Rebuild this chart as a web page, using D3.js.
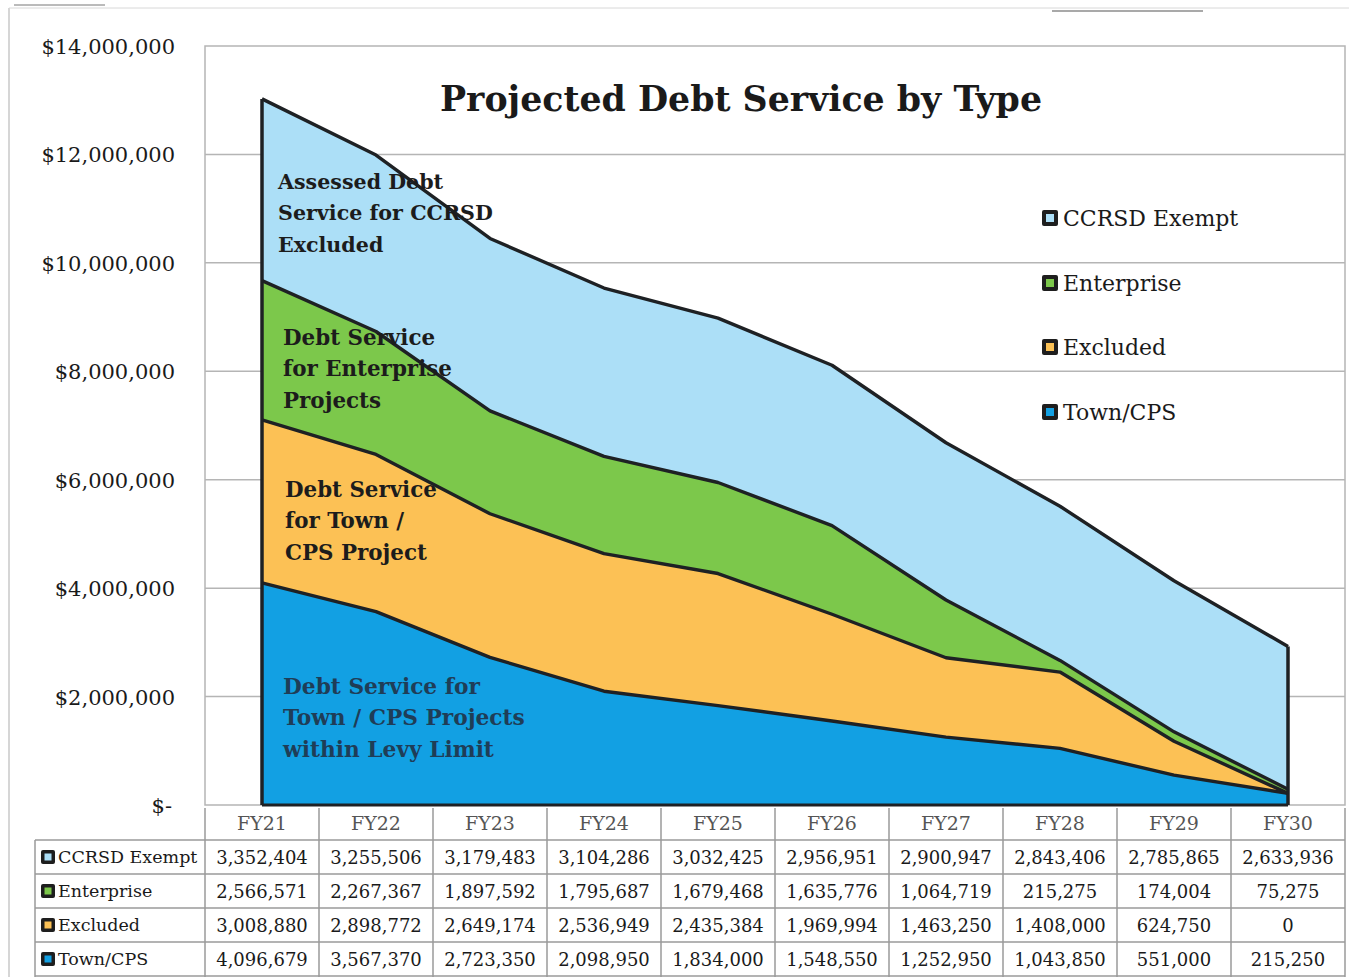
<!DOCTYPE html>
<html>
<head>
<meta charset="utf-8">
<script src="https://cdn.jsdelivr.net/npm/d3@7"></script>
<style>
  html, body { margin: 0; padding: 0; background: #fff; }
  svg { display: block; }
  text { font-family: "DejaVu Serif", "Liberation Serif", serif; }
</style>
</head>
<body>
<svg id="chart" width="1349" height="977"></svg>
<script>
// ---------- data ----------
const categories = ["FY21","FY22","FY23","FY24","FY25","FY26","FY27","FY28","FY29","FY30"];
const townCPS   = [4096679, 3567370, 2723350, 2098950, 1834000, 1548550, 1252950, 1043850, 551000, 215250];
const excluded  = [3008880, 2898772, 2649174, 2536949, 2435384, 1969994, 1463250, 1408000, 624750, 0];
const enterprise= [2566571, 2267367, 1897592, 1795687, 1679468, 1635776, 1064719, 215275, 174004, 75275];
const ccrsdExempt=[3352404, 3255506, 3179483, 3104286, 3032425, 2956951, 2900947, 2843406, 2785865, 2633936];
const yTicks = [0, 2000000, 4000000, 6000000, 8000000, 10000000, 12000000, 14000000];
const seriesNames = ["Town/CPS", "Excluded", "Enterprise", "CCRSD Exempt"];
const title = "Projected Debt Service by Type";
const annotations = [
  {series: "CCRSD Exempt", lines: ["Assessed Debt", "Service for CCRSD", "Excluded"]},
  {series: "Enterprise", lines: ["Debt Service", "for Enterprise", "Projects"]},
  {series: "Excluded", lines: ["Debt Service", "for Town /", "CPS Project"]},
  {series: "Town/CPS", lines: ["Debt Service for", "Town / CPS Projects", "within Levy Limit"]}
];

// ---------- style ----------
const colors = {"Town/CPS": "#12a0e3", "Excluded": "#fcc155", "Enterprise": "#7cc84b", "CCRSD Exempt": "#acdff7"};
const seriesValues = {"Town/CPS": townCPS, "Excluded": excluded, "Enterprise": enterprise, "CCRSD Exempt": ccrsdExempt};

const svg = d3.select("#chart");
const plot = {left: 205, right: 1345, top: 46, bottom: 805};

const x = d3.scaleBand().domain(categories).range([plot.left, plot.right]);
const xc = c => x(c) + x.bandwidth() / 2;
const y = d3.scaleLinear().domain([0, 14000000]).range([plot.bottom, plot.top]);

// outer frame
svg.append("line").attr("x1", 9).attr("x2", 9).attr("y1", 8).attr("y2", 977).attr("stroke", "#c8c8c8").attr("stroke-width", 1.5);
svg.append("line").attr("x1", 9).attr("x2", 1349).attr("y1", 8).attr("y2", 8).attr("stroke", "#d8d8d8").attr("stroke-width", 1);
svg.append("line").attr("x1", 14).attr("x2", 105).attr("y1", 5).attr("y2", 5).attr("stroke", "#777").attr("stroke-width", 1);
svg.append("line").attr("x1", 1052).attr("x2", 1203).attr("y1", 11).attr("y2", 11).attr("stroke", "#555").attr("stroke-width", 1.2);

// plot frame and gridlines
svg.append("rect").attr("x", plot.left).attr("y", plot.top).attr("width", plot.right - plot.left).attr("height", plot.bottom - plot.top)
  .attr("fill", "none").attr("stroke", "#b5b5b5").attr("stroke-width", 1.5);
svg.append("g").selectAll("line").data(yTicks.slice(1, -1)).join("line")
  .attr("x1", plot.left).attr("x2", plot.right)
  .attr("y1", d => y(d)).attr("y2", d => y(d))
  .attr("stroke", "#b5b5b5").attr("stroke-width", 1.5);

// y axis labels
const fmt = d => d === 0 ? "$-" : "$" + d3.format(",")(d);
svg.append("g").selectAll("text").data(yTicks).join("text")
  .attr("x", d => d === 0 ? 172 : 175).attr("y", d => y(d) + 8)
  .attr("text-anchor", "end").attr("font-size", 21).attr("fill", "#1a1a1a")
  .text(fmt);

// stacked areas
const table = categories.map((c, i) => {
  const row = {cat: c};
  seriesNames.forEach(s => row[s] = seriesValues[s][i]);
  return row;
});
const stack = d3.stack().keys(seriesNames)(table);
const area = d3.area()
  .x(d => xc(d.data.cat))
  .y0(d => y(d[0]))
  .y1(d => y(d[1]))
  .curve(d3.curveLinear);

svg.append("g").selectAll("path").data(stack).join("path")
  .attr("d", area)
  .attr("fill", d => colors[d.key])
  .attr("stroke", "none");
// boundary lines
const line = d3.line().x(d => xc(d.data.cat)).y(d => y(d[1])).curve(d3.curveLinear);
svg.append("g").selectAll("path").data(stack).join("path")
  .attr("d", line).attr("fill", "none").attr("stroke", "#1e2124").attr("stroke-width", 3.4).attr("stroke-linejoin", "round");
const topLayer = stack[stack.length - 1];
[0, categories.length - 1].forEach(i => {
  svg.append("line")
    .attr("x1", xc(categories[i])).attr("x2", xc(categories[i]))
    .attr("y1", y(0)).attr("y2", y(topLayer[i][1]))
    .attr("stroke", "#1e2124").attr("stroke-width", 3.5);
});
svg.append("line").attr("x1", xc(categories[0])).attr("x2", xc(categories[categories.length - 1]))
  .attr("y1", y(0)).attr("y2", y(0)).attr("stroke", "#1e2124").attr("stroke-width", 3);

// title
svg.append("text").attr("x", 741).attr("y", 111).attr("text-anchor", "middle")
  .attr("font-size", 36).attr("font-weight", "bold").attr("fill", "#1a1a1a")
  .attr("textLength", 602).attr("lengthAdjust", "spacingAndGlyphs")
  .text(title);

// annotations
const annoPos = {
  "CCRSD Exempt": {x: 278, y: 189, w: 215, color: "#1c1c1c"},
  "Enterprise": {x: 283, y: 345, w: 169, color: "#1c1c1c"},
  "Excluded": {x: 285, y: 497, w: 152, color: "#1c1c1c"},
  "Town/CPS": {x: 283, y: 694, w: 242, color: "#1f3d57"}
};
annotations.forEach(a => {
  const p = annoPos[a.series];
  const t = svg.append("text").attr("font-weight", "bold").attr("font-size", 22).attr("fill", p.color);
  a.lines.forEach((l, i) => {
    t.append("tspan").attr("x", p.x).attr("y", p.y + i * 31.3).text(l);
  });
  const widths = t.selectAll("tspan").nodes().map(n => n.getComputedTextLength());
  const maxW = d3.max(widths);
  t.attr("font-size", 22 * p.w / maxW);
});

// legend
const legendOrder = ["CCRSD Exempt", "Enterprise", "Excluded", "Town/CPS"];
const legendY = [218, 283, 347, 412];
const lg = svg.append("g");
legendOrder.forEach((s, i) => {
  const g = lg.append("g").attr("transform", `translate(1042, ${legendY[i]})`);
  g.append("rect").attr("x", 0).attr("y", -8).attr("width", 16).attr("height", 16).attr("rx", 2).attr("fill", "#1e1e1e");
  g.append("rect").attr("x", 4).attr("y", -4).attr("width", 8).attr("height", 8).attr("fill", colors[s]);
  g.append("text").attr("x", 21).attr("y", 8).attr("font-size", 22).attr("fill", "#1a1a1a").text(s);
});

// data table
const rowTop = [808, 840, 874, 908, 942, 976];
const tg = svg.append("g");
tg.selectAll("text.hdr").data(categories).join("text").attr("class", "hdr")
  .attr("x", d => xc(d)).attr("y", 830).attr("text-anchor", "middle")
  .attr("font-size", 19).attr("fill", "#555").text(d => d);
const colEdges = categories.map(c => x(c)).concat([plot.right]);
tg.selectAll("line.v").data(colEdges).join("line").attr("class", "v")
  .attr("x1", d => d).attr("x2", d => d).attr("y1", 808).attr("y2", 977)
  .attr("stroke", "#9a9a9a").attr("stroke-width", 1.5);
tg.append("line").attr("x1", 35).attr("x2", 35).attr("y1", 840).attr("y2", 977).attr("stroke", "#9a9a9a").attr("stroke-width", 1.5);
tg.selectAll("line.h").data(rowTop.slice(1)).join("line").attr("class", "h")
  .attr("x1", 35).attr("x2", plot.right).attr("y1", d => d).attr("y2", d => d)
  .attr("stroke", "#9a9a9a").attr("stroke-width", 1.5);
legendOrder.forEach((s, r) => {
  const yMid = (rowTop[r + 1] + rowTop[r + 2]) / 2;
  const g = tg.append("g");
  g.append("rect").attr("x", 41).attr("y", yMid - 7).attr("width", 14).attr("height", 14).attr("rx", 2).attr("fill", "#1e1e1e");
  g.append("rect").attr("x", 44.5).attr("y", yMid - 3.5).attr("width", 7).attr("height", 7).attr("fill", colors[s]);
  g.append("text").attr("x", 58).attr("y", yMid + 6).attr("font-size", 17.5).attr("fill", "#1a1a1a").text(s);
  g.selectAll("text.val").data(categories).join("text").attr("class", "val")
    .attr("x", d => xc(d)).attr("y", yMid + 7).attr("text-anchor", "middle")
    .attr("font-size", 18).attr("fill", "#1a1a1a")
    .text((d, i) => d3.format(",")(seriesValues[s][i]));
});
</script>
</body>
</html>
